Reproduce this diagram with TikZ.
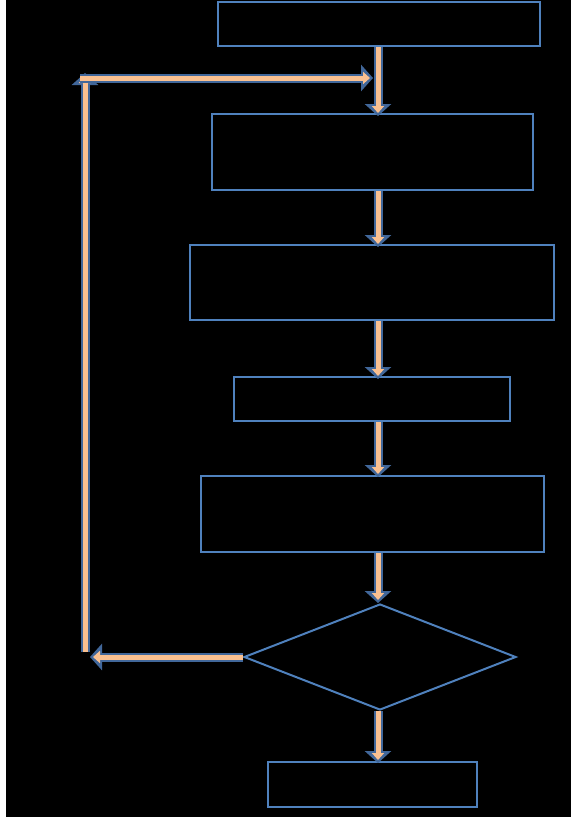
\documentclass[tikz,border=0pt]{standalone}
\usetikzlibrary{shapes.geometric,arrows.meta}
\definecolor{boxblue}{HTML}{4F81BD}
\definecolor{arrowblue}{HTML}{41679A}
\definecolor{peach}{HTML}{FAC090}
\tikzset{
  box/.style={draw=boxblue, line width=2pt, fill=black, rectangle, inner sep=0pt},
  dec/.style={draw=boxblue, line width=2pt, fill=black, diamond, inner sep=0pt, aspect=2.57},
  arrowout/.style={draw=arrowblue, line width=9pt, -{Triangle[length=12pt,width=26pt]}},
  arrowin/.style={draw=peach, line width=5pt, -{Triangle[length=7pt,width=12pt]}, shorten >=3pt}
}
\newcommand{\blockarrow}[2]{%
  \draw[arrowout] #1 -- #2;
  \draw[arrowin] #1 -- #2;}
\begin{document}
\begin{tikzpicture}[x=1pt,y=-1pt]
\useasboundingbox (0,0) rectangle (571,817);
\fill[white] (0,0) rectangle (571,817);
\fill[black] (6,0) rectangle (571,817);
\coordinate (ax) at (378,0);
\node[box, minimum width=322pt, minimum height=44pt] (b1) at (379,24) {};
\node[box, minimum width=321pt, minimum height=76pt] (b2) at (372.5,152) {};
\node[box, minimum width=364pt, minimum height=75pt] (b3) at (372,282.5) {};
\node[box, minimum width=276pt, minimum height=44pt] (b4) at (372,399) {};
\node[box, minimum width=343pt, minimum height=76pt] (b5) at (372.5,514) {};
\node[dec, minimum width=272pt, minimum height=106pt] (d) at (380,657) {};
\node[box, minimum width=209pt, minimum height=45pt] (b6) at (372.5,784.5) {};
\coordinate (c1) at (85,657);
\coordinate (c2) at (85,78);
\coordinate (c3) at (373,78);
\blockarrow{(b1.south -| ax)}{([yshift=-3pt]b2.north -| ax)}
\blockarrow{(b2.south -| ax)}{([yshift=-3pt]b3.north -| ax)}
\blockarrow{(b3.south -| ax)}{([yshift=-3pt]b4.north -| ax)}
\blockarrow{(b4.south -| ax)}{([yshift=-2pt]b5.north -| ax)}
\blockarrow{(b5.south -| ax)}{(d.north -| ax)}
\blockarrow{(d.south -| ax)}{([yshift=-2pt]b6.north -| ax)}
\blockarrow{(d.west)}{([xshift=5pt]c1)}
\blockarrow{([yshift=5pt]c1)}{([yshift=5pt]c2)}
\blockarrow{([xshift=-5pt]c2)}{(c3)}
\end{tikzpicture}
\end{document}
